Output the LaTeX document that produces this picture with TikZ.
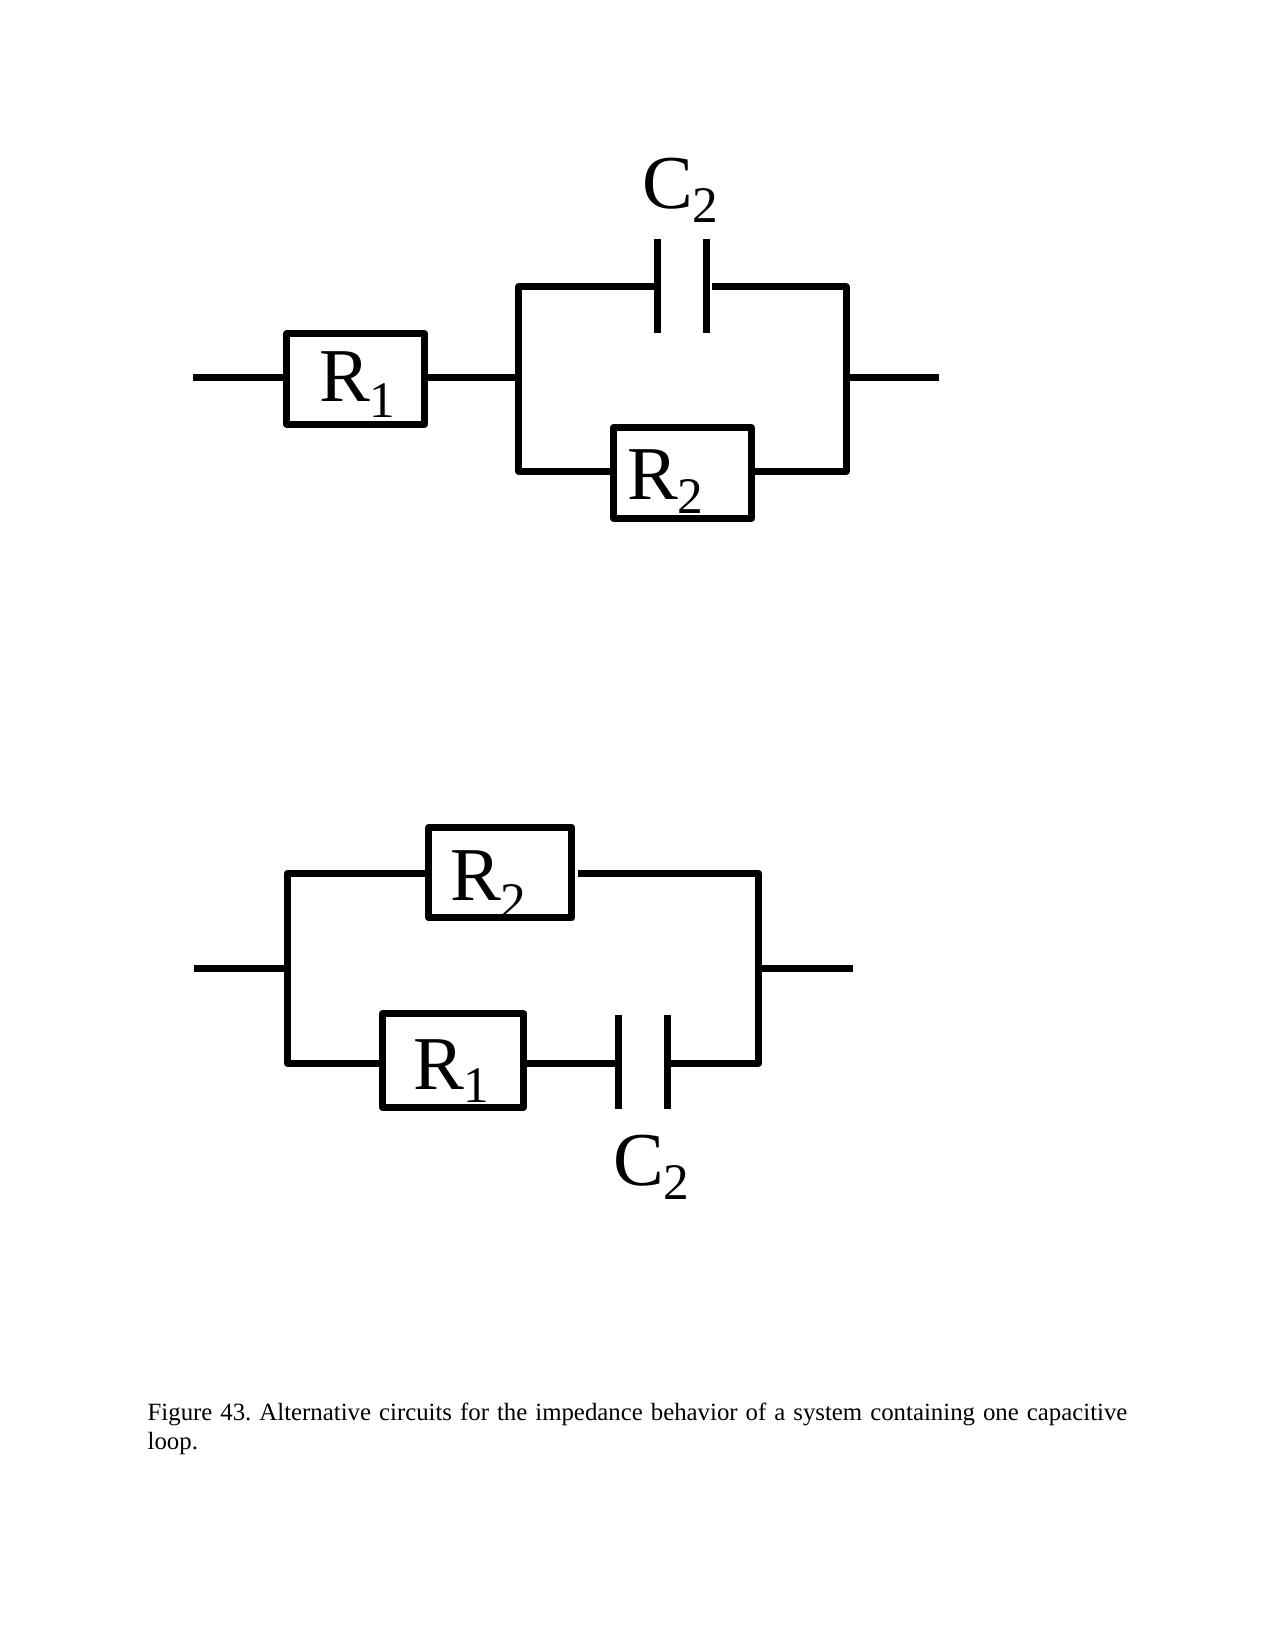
\documentclass[tikz,border=0pt]{standalone}
\usepackage{fontspec}
\setmainfont{Liberation Serif}
\newcommand{\elab}[3][8.5pt]{{\fontsize{46}{46}\selectfont #2\kern-0.5pt\raisebox{-#1}{\fontsize{31}{31}\selectfont #3}}}
\tikzset{
  x=0.636pt,y=-0.6374pt,
  wire/.style={line width=4.2pt,line cap=butt,line join=round},
  plate/.style={line width=4.2pt,line cap=butt},
  resbox/.style={draw,line width=4.2pt,line join=round,inner sep=0pt,minimum width=131*0.636pt,minimum height=86*0.636pt},
  lab/.style={anchor=base west,inner sep=0pt,outer sep=0pt}
}
\begin{document}
\begin{tikzpicture}
\useasboundingbox (0,0) rectangle (1212,1565.5);
% top circuit
\node[resbox] (ra) at (338,359.5) {};
\node[resbox] (rb) at (648.5,448.5) {};
\coordinate (ain) at (183,358);
\coordinate (aj) at (493,358);
\coordinate (atl) at (493,272);
\coordinate (abl) at (493,447);
\coordinate (atr) at (804,272);
\coordinate (abr) at (804,447);
\coordinate (ak) at (804,358);
\coordinate (aout) at (892,358);
\coordinate (cat) at (625,227);
\coordinate (cab) at (625,316);
\coordinate (cbt) at (671,227);
\coordinate (cbb) at (671,316);
\coordinate (cal) at (625,272);
\coordinate (car) at (677,272);
\draw[wire] (ain) -- (ra.west|-ain);
\draw[wire] (ra.east|-aj) -- (aj);
\draw[wire] (rb.west|-abl) -- (abl) -- (atl) -- (cal);
\draw[wire] (car) -- (atr) -- (abr) -- (rb.east|-abr);
\draw[wire] (ak) -- (aout);
\draw[plate] (cat) -- (cab);
\draw[plate] (cbt) -- (cbb);
\node[lab] (la) at (304,381) {\elab[9.5pt]{R}{1}};
\node[lab] (lb) at (596,474) {\elab[8pt]{R}{2}};
\node[lab] (lc) at (611,198) {\elab{C}{2}};
% bottom circuit
\node[resbox,minimum width=136*0.636pt] (rc) at (475.5,827.5) {};
\node[resbox,minimum width=134*0.636pt,minimum height=89*0.636pt] (rd) at (430.5,1005.5) {};
\coordinate (bin) at (184,918);
\coordinate (bj) at (273,918);
\coordinate (btl) at (273,828);
\coordinate (bbl) at (273,1008);
\coordinate (btr) at (721,828);
\coordinate (bbr) at (721,1008);
\coordinate (bk) at (721,918);
\coordinate (bout) at (811,918);
\coordinate (bw) at (549,828);
\coordinate (dat) at (588,962);
\coordinate (dab) at (588,1052);
\coordinate (dbt) at (634,962);
\coordinate (dbb) at (634,1052);
\coordinate (dal) at (588,1008);
\coordinate (dar) at (638,1008);
\draw[wire] (bin) -- (bj);
\draw[wire] (rc.west|-btl) -- (btl) -- (bbl) -- (rd.west|-bbl);
\draw[wire] (bw) -- (btr) -- (bbr) -- (dar);
\draw[wire] (rd.east|-dal) -- (dal);
\draw[wire] (bk) -- (bout);
\draw[plate] (dat) -- (dab);
\draw[plate] (dbt) -- (dbb);
\node[lab] (ld) at (428,854) {\elab[11pt]{R}{2}};
\node[lab] (le) at (393,1033) {\elab[8pt]{R}{1}};
\node[lab] (lf) at (583,1124) {\elab{C}{2}};
% caption
\node[anchor=north west,inner sep=0pt,text width=931*0.636pt,align=justify,font=\fontsize{15}{17.8}\selectfont\frenchspacing] (cap) at (140,1329.7)
  {Figure 43. Alternative circuits for the impedance behavior of a system containing one capacitive\linebreak loop.};
\end{tikzpicture}
\end{document}
